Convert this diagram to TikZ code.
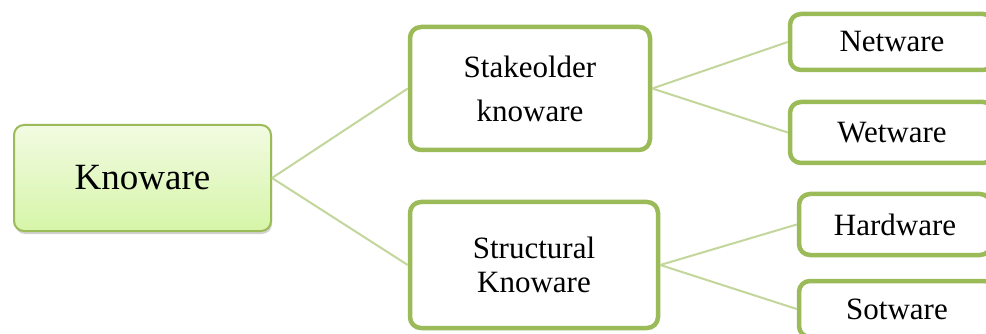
\documentclass[tikz,border=0pt]{standalone}
\usepackage{fontspec}
\setmainfont{Liberation Serif}
\usetikzlibrary{shadows}

\definecolor{olive}{RGB}{155,187,89}
\definecolor{lightolive}{RGB}{195,214,155}
\definecolor{rootTop}{RGB}{242,251,226}
\definecolor{rootBottom}{RGB}{214,245,168}

\tikzset{
    rootbox/.style={draw=olive, line width=2pt, rounded corners=10pt,
        top color=rootTop, bottom color=rootBottom,
        drop shadow={opacity=0.35, shadow xshift=1pt, shadow yshift=-3pt},
        font=\fontsize{37}{40}\selectfont},
    kbox/.style={draw=olive, line width=4.5pt, rounded corners=11pt, fill=white,
        align=center, font=\fontsize{31}{34}\selectfont},
    link/.style={draw=lightolive, line width=2pt}
}

\begin{document}
\begin{tikzpicture}[x=1pt, y=-1pt]
    \clip (0,0) rectangle (986,334);
    \fill [white] (0,0) rectangle (986,334);
    \node [rootbox, minimum width=257pt, minimum height=106pt] (knoware) at (142.5,178) {Knoware};
    \node [kbox, minimum width=240pt, minimum height=123pt] (stake) at (530,88.5) {Stakeolder\\[10pt]knoware};
    \node [kbox, minimum width=248pt, minimum height=126pt] (struct) at (534,265) {Structural\\Knoware};
    \node [kbox, minimum width=204pt, minimum height=56pt] (net) at (892,42) {Netware};
    \node [kbox, minimum width=204pt, minimum height=61pt] (wet) at (892,132.5) {Wetware};
    \node [kbox, minimum width=192pt, minimum height=61pt] (hard) at (895,224.5) {Hardware};
    \node [kbox, minimum width=196pt, minimum height=56pt] (soft) at (897,309) {Sotware};
    \draw [link] (knoware.east) -- (stake.west);
    \draw [link] (knoware.east) -- (struct.west);
    \draw [link] (stake.east) -- (net.west);
    \draw [link] (stake.east) -- (wet.west);
    \draw [link] (struct.east) -- (hard.west);
    \draw [link] (struct.east) -- (soft.west);
\end{tikzpicture}
\end{document}
